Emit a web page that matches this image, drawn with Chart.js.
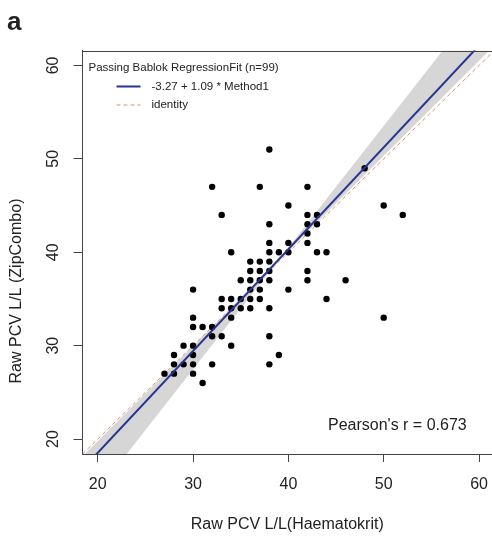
<!DOCTYPE html>
<html><head><meta charset="utf-8">
<script src="https://cdn.jsdelivr.net/npm/chart.js@4/dist/chart.umd.min.js"></script>
<style>html,body{margin:0;padding:0;background:#fff;overflow:hidden}#wrap{width:492px;height:539px;position:relative}</style>
</head><body><div id="wrap"><canvas id="c" width="492" height="539"></canvas></div>
<script>
// ---- data ----
const haematokrit = [
  38,
  48,
  32, 37, 42,
  40, 50,
  33, 42, 43, 52,
  38, 42, 43,
  42,
  38, 40, 42,
  34, 38, 39, 40, 43, 44,
  36, 37, 38,
  36, 37, 38, 42,
  35, 36, 37, 38, 42, 46,
  30, 36, 37, 40,
  33, 34, 35, 36, 37, 44,
  33, 34, 35, 36, 38,
  30, 34, 50,
  30, 31, 32,
  32, 33, 38,
  29, 30, 34,
  28, 30, 39,
  28, 29, 30, 32, 38,
  27, 28, 30,
  31
];
const zipCombo = [
  51,
  49,
  47, 47, 47,
  45, 45,
  44, 44, 44, 44,
  43, 43, 43,
  42,
  41, 41, 41,
  40, 40, 40, 40, 40, 40,
  39, 39, 39,
  38, 38, 38, 38,
  37, 37, 37, 37, 37, 37,
  36, 36, 36, 36,
  35, 35, 35, 35, 35, 35,
  34, 34, 34, 34, 34,
  33, 33, 33,
  32, 32, 32,
  31, 31, 31,
  30, 30, 30,
  29, 29, 29,
  28, 28, 28, 28, 28,
  27, 27, 27,
  26
];
const fitCoef = [-3.27, 1.09];          // intercept, slope
const ciSteepCoef = [-11.62, 1.303];    // band edge 1
const ciFlatCoef = [-0.58, 1.018];      // band edge 2
const xLimits = [18.4, 61.36];
const yLimits = [18.4, 61.6];
const xTicks = [20, 30, 40, 50, 60];
const yTicks = [20, 30, 40, 50, 60];
const legendTitle = 'Passing Bablok RegressionFit (n=99)';
const legendLabels = ['-3.27 + 1.09 * Method1', 'identity'];
const xTitle = 'Raw PCV L/L(Haematokrit)';
const yTitle = 'Raw PCV L/L (ZipCombo)';
const pearsonText = "Pearson's r = 0.673";
const panelLabel = 'a';

// ---- build ----
const FONT = '"Liberation Sans", Arial, Helvetica, sans-serif';
const TXT = '#222';
const AX = '#444';
const lineOf = (c) => [xLimits[0], 64].map(x => ({x, y: c[0] + c[1] * x}));
const points = haematokrit.map((x, i) => ({x, y: zipCombo[i]}));

const decor = {
  id: 'decor',
  afterDraw(chart) {
    const {ctx, chartArea: a, scales: {y}} = chart;
    ctx.save();
    ctx.strokeStyle = AX; ctx.lineWidth = 1;
    ctx.beginPath(); ctx.moveTo(a.left, Math.round(a.top) + 0.5); ctx.lineTo(a.right, Math.round(a.top) + 0.5); ctx.stroke();
    ctx.fillStyle = TXT;
    ctx.font = '16px ' + FONT;
    ctx.textAlign = 'center'; ctx.textBaseline = 'middle';
    yTicks.forEach(v => {
      const py = y.getPixelForValue(v);
      ctx.save(); ctx.translate(54, py); ctx.rotate(-Math.PI / 2); ctx.fillText(String(v), 0, 0); ctx.restore();
    });
    ctx.save(); ctx.translate(17, 291); ctx.rotate(-Math.PI / 2); ctx.fillText(yTitle, 0, 0); ctx.restore();
    // legend
    ctx.textAlign = 'left';
    ctx.font = '11.5px ' + FONT;
    ctx.fillText(legendTitle, a.left + 6, a.top + 17);
    ctx.fillText(legendLabels[0], a.left + 69, a.top + 36);
    ctx.fillText(legendLabels[1], a.left + 69, a.top + 54);
    ctx.strokeStyle = '#26358f'; ctx.lineWidth = 2;
    ctx.beginPath(); ctx.moveTo(a.left + 34, a.top + 36); ctx.lineTo(a.left + 58, a.top + 36); ctx.stroke();
    ctx.strokeStyle = '#d9926a'; ctx.lineWidth = 1; ctx.setLineDash([4, 3]);
    ctx.beginPath(); ctx.moveTo(a.left + 34, a.top + 54.5); ctx.lineTo(a.left + 58, a.top + 54.5); ctx.stroke();
    ctx.setLineDash([]);
    // pearson
    ctx.font = '16px ' + FONT;
    ctx.fillText(pearsonText, 328, 426);
    // panel label
    ctx.font = 'bold 26px ' + FONT;
    ctx.textBaseline = 'alphabetic';
    ctx.fillText(panelLabel, 7, 30);
    ctx.restore();
  }
};

new Chart(document.getElementById('c'), {
  type: 'scatter',
  data: {
    datasets: [
      {label: 'fit', data: lineOf(fitCoef), showLine: true, borderColor: '#26358f', borderWidth: 2, pointRadius: 0, order: 0},
      {label: 'pts', data: points, pointRadius: 3.2, pointBackgroundColor: '#000', pointBorderWidth: 0, order: 1},
      {label: 'identity', data: lineOf([0, 1]), showLine: true, borderColor: '#d9926a', borderWidth: 1, borderDash: [4, 3], pointRadius: 0, order: 2},
      {label: 'ciA', data: lineOf(ciSteepCoef), showLine: true, borderColor: 'rgba(0,0,0,0)', borderWidth: 1, pointRadius: 0, fill: '+1', backgroundColor: '#d6d6d6', order: 3},
      {label: 'ciB', data: lineOf(ciFlatCoef), showLine: true, borderColor: 'rgba(0,0,0,0)', borderWidth: 1, pointRadius: 0, order: 4}
    ]
  },
  options: {
    responsive: false, animation: false,
    layout: {autoPadding: false, padding: {left: 73.5, top: 50.5, right: 0, bottom: 0}},
    plugins: {legend: {display: false}, tooltip: {enabled: false}},
    scales: {
      x: {
        type: 'linear', min: xLimits[0], max: xLimits[1],
        afterBuildTicks: s => { s.ticks = xTicks.map(v => ({value: v})); },
        afterFit: s => { s.paddingLeft = 0; s.paddingRight = 0; },
        ticks: {color: TXT, font: {family: FONT, size: 16, lineHeight: 2.375}, padding: 4, maxRotation: 0},
        grid: {drawOnChartArea: false, drawTicks: true, tickLength: 8, color: AX},
        border: {display: true, color: AX, width: 1},
        title: {display: true, text: xTitle, color: TXT, font: {family: FONT, size: 16}, padding: {top: 7.4, bottom: 4.4}}
      },
      y: {
        type: 'linear', min: yLimits[0], max: yLimits[1],
        afterBuildTicks: s => { s.ticks = yTicks.map(v => ({value: v})); },
        ticks: {display: false},
        grid: {drawOnChartArea: false, drawTicks: true, tickLength: 9, color: AX},
        border: {display: true, color: AX, width: 1}
      }
    }
  },
  plugins: [decor]
});
</script>
</body></html>
